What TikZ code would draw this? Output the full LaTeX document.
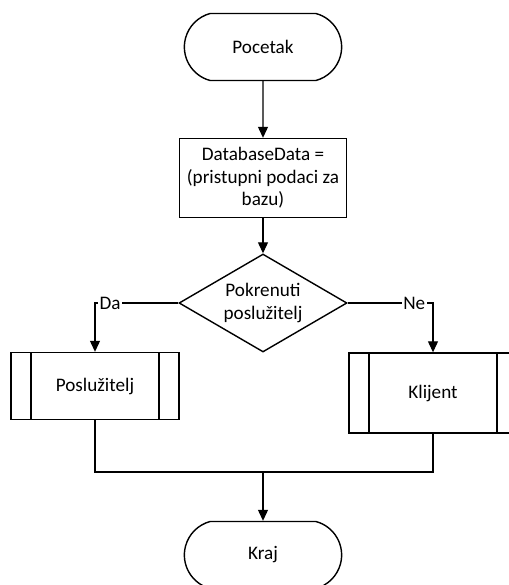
\documentclass[tikz,border=0pt]{standalone}
\usepackage{fontspec}
\setmainfont{Carlito}
\usetikzlibrary{shapes.misc,shapes.geometric,arrows.meta}

\tikzset{
  terminal/.style={rounded rectangle, rounded rectangle arc length=150, draw, line width=0.8pt, minimum width=3.38cm, minimum height=1.34cm},
  procbox/.style={rectangle, draw, line width=0.8pt, minimum width=3.34cm, minimum height=1.58cm, align=center},
  decision/.style={diamond, draw, line width=0.8pt, inner sep=0pt, minimum width=3.36cm, minimum height=1.96cm},
  subproc/.style={rectangle, draw, line width=0.8pt, minimum width=3.36cm,
    path picture={
      \draw[line width=0.8pt] ([xshift=0.4cm]path picture bounding box.north west) -- ([xshift=0.4cm]path picture bounding box.south west);
      \draw[line width=0.8pt] ([xshift=-0.4cm]path picture bounding box.north east) -- ([xshift=-0.4cm]path picture bounding box.south east);
    }},
  conn/.style={line width=0.65pt},
  arrow/.style={conn, -{Triangle[length=0.22cm,width=0.2cm]}},
  branch/.style={fill=white, inner sep=1pt}
}

\begin{document}
\begin{tikzpicture}[x=0.02cm, y=-0.02cm, font=\fontsize{10.9}{12.9}\selectfont]
  \clip (0,0) rectangle (509,585);
  \fill[white] (0,0) rectangle (509,585);

  % shapes
  \node[terminal] (start) at (263,47) {Pocetak};
  \node[procbox] (data) at (263,178) {DatabaseData =\\(pristupni podaci za\\bazu)};
  \node[decision, label={[align=center]center:Pokrenuti\\poslužitelj}] (dec) at (263,303) {};
  \node[subproc, minimum height=1.34cm] (server) at (95,386) {Poslužitelj};
  \node[subproc, minimum height=1.6cm] (client) at (433,393) {Klijent};
  \node[terminal] (end) at (263,555) {Kraj};
  \coordinate (join) at (263,472);

  % connectors
  \draw[arrow] (start) -- (data);
  \draw[arrow] (data) -- (dec);
  \draw[arrow] (dec.west) -| node[branch, pos=0.41] {Da} (server.north);
  \draw[arrow] (dec.east) -| node[branch, pos=0.39] {Ne} (client.north);
  \draw[conn] (server.south) |- (join);
  \draw[conn] (client.south) |- (join);
  \draw[arrow] (join) -- (end.north);
\end{tikzpicture}
\end{document}
